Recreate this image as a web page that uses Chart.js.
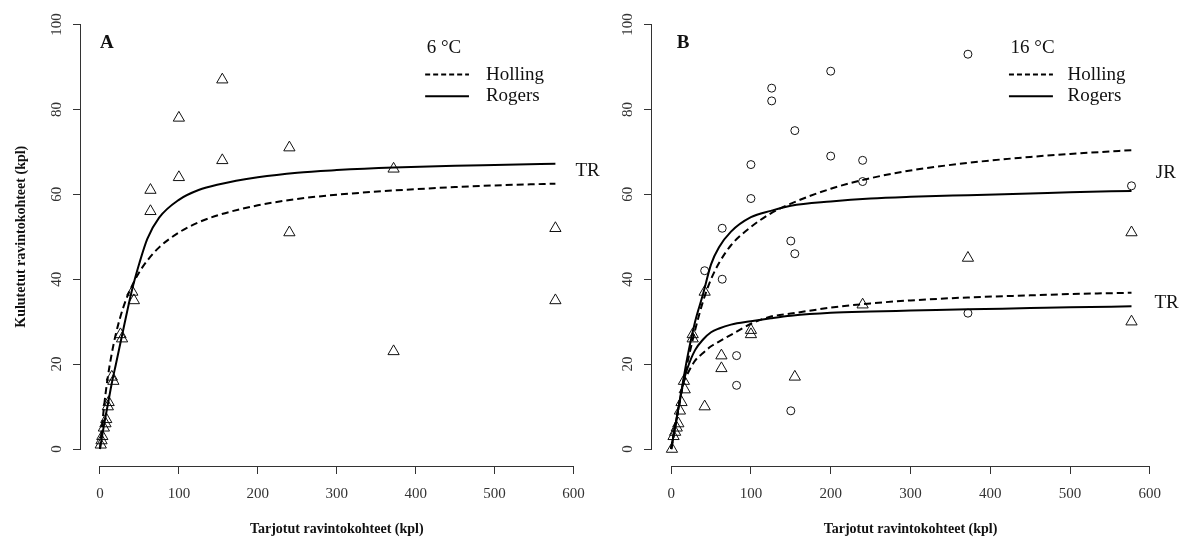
<!DOCTYPE html>
<html>
<head>
<meta charset="utf-8">
<script src="https://cdn.jsdelivr.net/npm/chart.js@4.4.0/dist/chart.umd.min.js"></script>
<style>
  html, body { margin: 0; padding: 0; background: #fff; }
  #wrap { position: relative; width: 1184px; height: 538px; overflow: hidden; }
  #cA { position: absolute; left: 0; top: 0; }
  #cB { position: absolute; left: 600px; top: 0; }
</style>
</head>
<body>
<div id="wrap">
  <canvas id="cA" width="600" height="538"></canvas>
  <canvas id="cB" width="584" height="538"></canvas>
</div>
<script>
// tick labels
const xTicks = [0, 100, 200, 300, 400, 500, 600];
const yTicks = [0, 20, 40, 60, 80, 100];

// 6 °C, TR: observed points (offered, consumed)
const obs6X = [1, 2, 3, 5, 7, 8, 10, 11, 15, 17, 26, 28, 41, 43, 64, 64, 100, 100, 155, 155, 240, 240, 372, 372, 577, 577];
const obs6Y = [1, 2, 3, 5, 6, 7, 10, 11, 17, 16, 27, 26, 37, 35, 61, 56, 78, 64, 87, 68, 71, 51, 66, 23, 52, 35];

// fitted curves, sampled along offered prey
const curveX = [0, 5, 10, 15, 20, 30, 40, 50, 60, 75, 100, 125, 150, 200, 250, 300, 372, 450, 500, 577];
const holling6 = [0, 9.7, 17, 22.5, 27, 33.6, 38.2, 41.7, 44.4, 47.5, 51, 53.4, 55.1, 57.4, 58.9, 59.9, 60.9, 61.7, 62.1, 62.5];
const rogers6 = [0, 5.5, 10.5, 15.5, 19.8, 28.5, 37, 43.8, 49.5, 54.5, 58.7, 61, 62.3, 64, 65.1, 65.7, 66.3, 66.7, 66.9, 67.2];

// 16 °C, JR (circles) and TR (triangles)
const jr16X = [42, 64, 64, 82, 82, 100, 100, 126, 126, 150, 150, 155, 155, 200, 200, 240, 240, 372, 372, 577];
const jr16Y = [42, 52, 40, 22, 15, 67, 59, 85, 82, 49, 9, 75, 46, 89, 69, 68, 63, 93, 32, 62];
const tr16X = [1, 3, 5, 7, 9, 11, 13, 16, 17, 27, 27, 42, 42, 63, 63, 100, 100, 155, 240, 372, 577, 577];
const tr16Y = [0, 3, 4, 5, 6, 9, 11, 16, 14, 26, 27, 37, 10, 22, 19, 28, 27, 17, 34, 45, 51, 30];

const hollingJR16 = [0, 5.3, 10.5, 15.5, 20, 28, 34.8, 40, 43.8, 48, 52.3, 55.5, 57.8, 61.3, 63.8, 65.6, 67.4, 68.8, 69.5, 70.4];
const rogersJR16 = [0, 5.3, 10.5, 16, 21.3, 30, 36.5, 43.5, 47.5, 51.2, 54.6, 56.1, 57.3, 58.3, 59, 59.4, 59.8, 60.2, 60.5, 60.8];
const hollingTR16 = [0, 5.3, 10.5, 15.3, 17.5, 20.8, 22.6, 24.2, 25.3, 26.9, 29.5, 31.2, 31.9, 33.3, 34.3, 35, 35.7, 36.2, 36.5, 36.8];
const rogersTR16 = [0, 5.3, 10.5, 15.5, 18.8, 23.3, 25.8, 27.5, 28.4, 29.3, 30.1, 30.8, 31.4, 32.1, 32.4, 32.6, 32.9, 33.2, 33.4, 33.6];

const serif = '"Liberation Serif", "Times New Roman", serif';

function pts(xs, ys) {
    return xs.map((x, i) => ({x: x, y: ys[i]}));
}

function pistePisteet(xs, ys, style, r) {
    return {
        data: pts(xs, ys),
        showLine: false,
        pointStyle: style,
        pointRadius: r,
        pointBorderColor: '#111',
        pointBackgroundColor: 'rgba(0,0,0,0)',
        pointBorderWidth: 1,
        order: 2
    };
}

function kayra(ys, dashed) {
    return {
        data: pts(curveX, ys),
        showLine: true,
        borderColor: '#000',
        borderWidth: 2,
        borderDash: dashed ? [7, 4] : [],
        pointRadius: 0,
        cubicInterpolationMode: 'monotone',
        order: 1
    };
}

// R-tyyliset akselit + selite ja tunnisteet
const merkinnat = {
    id: 'merkinnat',
    afterDraw(chart, args, o) {
        const {ctx, chartArea: ca} = chart;
        const x = chart.scales.x, y = chart.scales.y;
        ctx.save();
        ctx.strokeStyle = '#333';
        ctx.lineWidth = 1;
        ctx.setLineDash([]);
        ctx.beginPath();
        const by = Math.round(ca.bottom) + 0.5;
        ctx.moveTo(x.getPixelForValue(xTicks[0]), by);
        ctx.lineTo(x.getPixelForValue(xTicks[xTicks.length - 1]), by);
        const lx = Math.round(ca.left) - 0.5;
        ctx.moveTo(lx, y.getPixelForValue(yTicks[0]));
        ctx.lineTo(lx, y.getPixelForValue(yTicks[yTicks.length - 1]));
        ctx.stroke();

        ctx.fillStyle = '#111';
        ctx.textBaseline = 'middle';
        ctx.textAlign = 'left';
        ctx.font = 'bold 19px ' + serif;
        ctx.fillText(o.paneeli, x.getPixelForValue(o.paneeliX), y.getPixelForValue(95.6));

        ctx.font = '19px ' + serif;
        ctx.fillText(o.lampo, x.getPixelForValue(o.legX0 + 2), y.getPixelForValue(94.5));
        ctx.fillText('Holling', x.getPixelForValue(o.legTx), y.getPixelForValue(88.2));
        ctx.fillText('Rogers', x.getPixelForValue(o.legTx), y.getPixelForValue(83.1));
        o.tunnisteet.forEach(t => {
            ctx.fillText(t[0], x.getPixelForValue(t[1]), y.getPixelForValue(t[2]));
        });

        ctx.strokeStyle = '#000';
        ctx.lineWidth = 2;
        ctx.beginPath();
        ctx.setLineDash([5, 3]);
        ctx.moveTo(x.getPixelForValue(o.legX0), y.getPixelForValue(88.2));
        ctx.lineTo(x.getPixelForValue(o.legX1), y.getPixelForValue(88.2));
        ctx.stroke();
        ctx.beginPath();
        ctx.setLineDash([]);
        ctx.moveTo(x.getPixelForValue(o.legX0), y.getPixelForValue(83.1));
        ctx.lineTo(x.getPixelForValue(o.legX1), y.getPixelForValue(83.1));
        ctx.stroke();
        ctx.restore();
    }
};

function asteikot(yLeveys, yOtsikko) {
    return {
        x: {
            type: 'linear',
            min: -24,
            max: 624,
            afterBuildTicks: s => { s.ticks = xTicks.map(v => ({value: v})); },
            afterFit: s => { s.height = 72; s.paddingLeft = 0; s.paddingRight = 0; },
            grid: {drawOnChartArea: false, tickLength: 8, color: '#333', lineWidth: 1},
            border: {display: false},
            ticks: {font: {family: serif, size: 15}, color: '#333', padding: 11, maxRotation: 0},
            title: {
                display: true,
                text: 'Tarjotut ravintokohteet (kpl)',
                font: {family: serif, size: 14, weight: 'bold'},
                color: '#111',
                padding: {top: 8, bottom: 0}
            }
        },
        y: {
            type: 'linear',
            min: -4,
            max: 104,
            afterBuildTicks: s => { s.ticks = yTicks.map(v => ({value: v})); },
            afterFit: s => { s.width = yLeveys; s.paddingTop = 0; s.paddingBottom = 0; },
            grid: {drawOnChartArea: false, tickLength: 8, color: '#333', lineWidth: 1},
            border: {display: false},
            ticks: {
                font: {family: serif, size: 15},
                color: '#333',
                padding: 5,
                minRotation: 90,
                maxRotation: 90,
                crossAlign: 'center'
            },
            title: {
                display: yOtsikko,
                text: 'Kulutetut ravintokohteet (kpl)',
                font: {family: serif, size: 14, weight: 'bold'},
                color: '#111',
                padding: {top: 13, bottom: 0}
            }
        }
    };
}

function luoKuva(id, datasets, yLeveys, yOtsikko, oikea, merk) {
    new Chart(document.getElementById(id), {
        type: 'scatter',
        data: {datasets: datasets},
        options: {
            responsive: false,
            animation: false,
            events: [],
            layout: {padding: {left: 0, right: oikea, top: 4, bottom: 0}},
            scales: asteikot(yLeveys, yOtsikko),
            plugins: {
                legend: {display: false},
                tooltip: {enabled: false},
                merkinnat: merk
            }
        },
        plugins: [merkinnat]
    });
}

luoKuva('cA', [
    kayra(rogers6, false),
    kayra(holling6, true),
    pistePisteet(obs6X, obs6Y, 'triangle', 6.5)
], 81, true, 5, {
    paneeli: 'A', paneeliX: 0, lampo: '6 °C',
    legX0: 412, legX1: 467.5, legTx: 489,
    tunnisteet: [['TR', 602.4, 65.5]]
});

luoKuva('cB', [
    kayra(rogersJR16, false),
    kayra(hollingJR16, true),
    kayra(rogersTR16, false),
    kayra(hollingTR16, true),
    pistePisteet(jr16X, jr16Y, 'circle', 4),
    pistePisteet(tr16X, tr16Y, 'triangle', 6.5)
], 52, false, 15, {
    paneeli: 'B', paneeliX: 7, lampo: '16 °C',
    legX0: 423.4, legX1: 478.5, legTx: 496.8,
    tunnisteet: [['JR', 607.5, 64.9], ['TR', 605.7, 34.3]]
});
</script>
</body>
</html>
